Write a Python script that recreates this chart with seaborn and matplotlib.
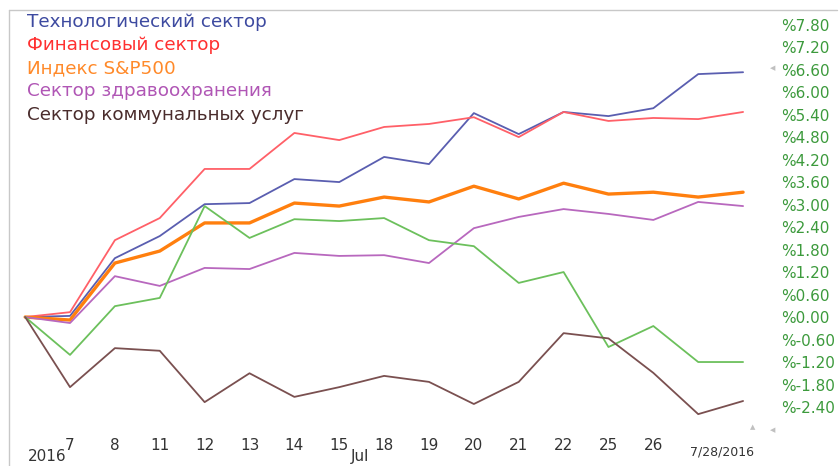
import numpy as np
import pandas as pd
import matplotlib
matplotlib.use("Agg")
import matplotlib.pyplot as plt
from matplotlib.lines import Line2D
import seaborn as sns

# data (percent change since Jul 6, 2016)
days = ["6", "7", "8", "11", "12", "13", "14", "15", "18", "19", "20", "21", "22", "25", "26", "27", "28"]
tick_days = ["7", "8", "11", "12", "13", "14", "15", "18", "19", "20", "21", "22", "25", "26"]

tech = [0, 0.03, 1.57, 2.16, 3.01, 3.04, 3.68, 3.60, 4.27, 4.08, 5.44, 4.88, 5.47, 5.36, 5.57, 6.48, 6.53]
fin = [0, 0.13, 2.05, 2.64, 3.95, 3.95, 4.91, 4.72, 5.07, 5.15, 5.33, 4.80, 5.47, 5.23, 5.31, 5.28, 5.47]
sp500 = [0, -0.08, 1.44, 1.76, 2.51, 2.51, 3.04, 2.96, 3.20, 3.07, 3.49, 3.15, 3.57, 3.28, 3.33, 3.20, 3.33]
health = [0, -0.16, 1.09, 0.83, 1.31, 1.28, 1.71, 1.63, 1.65, 1.44, 2.37, 2.67, 2.88, 2.75, 2.59, 3.07, 2.96]
energy = [0, -1.01, 0.29, 0.51, 2.96, 2.11, 2.61, 2.56, 2.64, 2.05, 1.89, 0.91, 1.20, -0.80, -0.24, -1.20, -1.20]
util = [0, -1.87, -0.83, -0.90, -2.27, -1.50, -2.13, -1.87, -1.57, -1.73, -2.32, -1.73, -0.43, -0.57, -1.49, -2.59, -2.24]

names = ["Технологический сектор", "Финансовый сектор", "Индекс S&P500",
         "Сектор здравоохранения", "_energy", "Сектор коммунальных услуг"]
series = [tech, fin, sp500, health, energy, util]
line_colors = ["#5a5eb0", "#ff6068", "#ff7f0e", "#b868be", "#6cc05c", "#7a5050"]
text_colors = ["#3d4aa0", "#ff3030", "#ff8a2a", "#b056b5", None, "#4a2c2c"]
widths = [1.3, 1.3, 2.4, 1.3, 1.3, 1.3]

y_ticks = [7.8 - 0.6 * i for i in range(18)]

rows = []
for name, vals in zip(names, series):
    for i, v in enumerate(vals):
        rows.append({"pos": i, "value": v, "series": name})
df = pd.DataFrame(rows)

sns.set_style("white")
plt.rcParams['font.family'] = ['DejaVu Sans']

fig = plt.figure(figsize=(8.39, 4.66), dpi=100)
W, H = 839, 466
ax = fig.add_axes([9 / W, (H - 425) / H, (770 - 9) / W, (425 - 10) / H])

for name, col, lw in zip(names, line_colors, widths):
    sns.lineplot(data=df[df["series"] == name], x="pos", y="value", color=col,
                 linewidth=lw, label=name, ax=ax)

ax.set_xlim(-0.36, 16.6)
ax.set_ylim(-2.88, 8.19)
ax.set_xlabel("")
ax.set_ylabel("")

ax.yaxis.tick_right()
ax.set_yticks(y_ticks)
ax.set_yticklabels(["%" + f"{t:.2f}" for t in y_ticks])
ax.tick_params(axis="y", length=0, pad=8, labelsize=11, labelcolor="#3c9a3c")

ax.set_xticks(range(1, 15))
ax.set_xticklabels(tick_days)
ax.tick_params(axis="x", length=0, pad=9, labelsize=11, labelcolor="#333333")

for s in ax.spines.values():
    s.set_visible(False)

trans = ax.get_xaxis_transform()
ax.text(15.52, -0.065, "7/28/2016", transform=trans, ha="center", va="center",
        fontsize=9, color="#333333")
ax.text(0.49, -0.077, "2016", transform=trans, ha="center", va="center",
        fontsize=11, color="#333333", clip_on=False)
ax.text(7.46, -0.077, "Jul", transform=trans, ha="center", va="center",
        fontsize=11, color="#333333", clip_on=False)

# frame lines (top and left)
fig.add_artist(Line2D([9 / W, 837 / W], [1 - 10 / H, 1 - 10 / H], color="#c8c8c8", lw=1))
fig.add_artist(Line2D([9 / W, 9 / W], [1 - 10 / H, 0], color="#c8c8c8", lw=1))

# small scroll markers
fig.text(773 / W, 1 - 68 / H, "◀", fontsize=5, color="#c0c0c0", ha="center", va="center")
fig.text(753 / W, 1 - 427 / H, "▲", fontsize=5, color="#c0c0c0", ha="center", va="center")
fig.text(773 / W, 1 - 430 / H, "◀", fontsize=5, color="#c0c0c0", ha="center", va="center")

leg = ax.legend(loc="upper left", bbox_to_anchor=(27 / W, 1 - 13 / H),
                bbox_transform=fig.transFigure, frameon=False, handlelength=0,
                handletextpad=0, borderpad=0, borderaxespad=0, labelspacing=0.28,
                fontsize=13.2)
for h in leg.legend_handles:
    h.set_visible(False)
for txt, c in zip(leg.get_texts(), [c for c in text_colors if c]):
    txt.set_color(c)

fig.savefig("out.png", dpi=100, facecolor="white")
